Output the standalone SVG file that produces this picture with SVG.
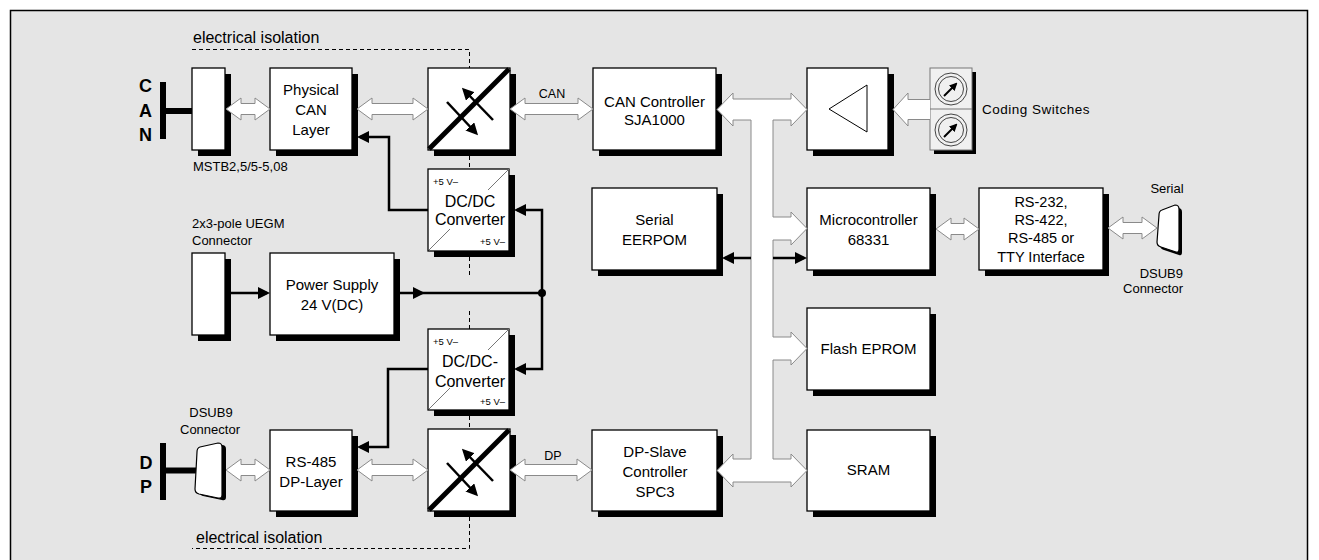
<svg xmlns="http://www.w3.org/2000/svg" width="1319" height="560" viewBox="0 0 1319 560">
<style>
.box{fill:#fff;stroke:#000;stroke-width:1.3}
.sh{fill:#000}
.t{font-family:"Liberation Sans",Arial,sans-serif;font-size:15px;text-anchor:middle;fill:#000}
.s{font-size:13px}
.xs{font-size:9.5px}
.l{text-anchor:start}
.r{text-anchor:end}
.b{font-weight:bold;font-size:18px}
.ha{fill:#fff;stroke:#8a8a8a;stroke-width:1}
.wire{fill:none;stroke:#000;stroke-width:2.5}
.iso{fill:none;stroke:#000;stroke-width:1;stroke-dasharray:4 3}
.thin{stroke:#777;stroke-width:1;fill:none}
</style>
<defs>
<marker id="ah" viewBox="0 0 12 12" refX="9" refY="6" markerWidth="12" markerHeight="12" markerUnits="userSpaceOnUse" orient="auto"><path d="M0,0 L12,6 L0,12 Z" fill="#000"/></marker>
<marker id="ahs" viewBox="0 0 8 8" refX="6" refY="4" markerWidth="8" markerHeight="8" markerUnits="userSpaceOnUse" orient="auto"><path d="M0,0 L8,4 L0,8 Z" fill="#000"/></marker>
<g id="isoInner">
<rect class="sh" x="6" y="6" width="82" height="82"/>
<rect class="box" x="0" y="0" width="82" height="82"/>
<line x1="1" y1="81" x2="81" y2="1" stroke="#000" stroke-width="5"/>
<line x1="19" y1="34" x2="48" y2="65" stroke="#000" stroke-width="2.5" marker-end="url(#ah)"/>
<line x1="65" y1="52" x2="36" y2="22" stroke="#000" stroke-width="2.5" marker-end="url(#ah)"/>
</g>
</defs>
<rect x="0" y="0" width="1319" height="560" fill="#fff"/>
<rect x="10.5" y="10.5" width="1297" height="570" fill="#e5e5e5" stroke="#000" stroke-width="1.5"/>

<g id="isolation">
<path class="iso" d="M192,49.5 H469.5 V68 M469.5,156 V169 M469.5,257 V276 M469.5,311 V329 M469.5,416 V429 M469.5,517 V548.5 H192"/>
<text class="t l" x="193" y="43" style="font-size:16px">electrical isolation</text>
<text class="t l" x="196" y="543" style="font-size:16px">electrical isolation</text>
</g>

<g id="can-bus">
<text class="t b" x="145.5" y="92">C</text>
<text class="t b" x="145.5" y="117">A</text>
<text class="t b" x="145.5" y="141">N</text>
<rect x="160" y="82" width="6" height="57" fill="#000"/>
<line x1="166" y1="111" x2="192" y2="111" stroke="#000" stroke-width="6"/>
</g>
<g id="mstb">
<rect class="sh" x="198" y="74" width="33" height="82"/>
<rect class="box" x="192" y="68" width="33" height="82"/>
<text class="t s l" x="193" y="171">MSTB2,5/5-5,08</text>
</g>
<g id="phys-can">
<rect class="sh" x="276" y="74" width="82" height="82"/>
<rect class="box" x="270" y="68" width="82" height="82"/>
<text class="t" x="311" y="95">Physical</text>
<text class="t" x="311" y="115">CAN</text>
<text class="t" x="311" y="135">Layer</text>
</g>
<g id="iso-top"><use href="#isoInner" x="428" y="68"/></g>
<g id="can-ctrl">
<rect class="sh" x="599" y="74" width="123" height="82"/>
<rect class="box" x="593" y="68" width="123" height="82"/>
<text class="t" x="654.5" y="107">CAN Controller</text>
<text class="t" x="654.5" y="125">SJA1000</text>
</g>
<g id="buffer">
<rect class="sh" x="813" y="74" width="81" height="82"/>
<rect class="box" x="807" y="68" width="81" height="82"/>
<polygon points="829,109 867,85 867,132" fill="none" stroke="#000" stroke-width="1"/>
</g>
<g id="coding">
<rect class="sh" x="934" y="72" width="42" height="82"/>
<rect x="930" y="68" width="42" height="82" fill="#f0f0f0" stroke="#777" stroke-width="1"/>
<line x1="930" y1="109" x2="972" y2="109" stroke="#777" stroke-width="1"/>
<circle cx="951" cy="89" r="16" fill="none" stroke="#444" stroke-width="1"/>
<circle cx="951" cy="89" r="12.5" fill="none" stroke="#444" stroke-width="1"/>
<line x1="944" y1="96" x2="956" y2="84" stroke="#000" stroke-width="2" marker-end="url(#ahs)"/>
<circle cx="951" cy="130" r="16" fill="none" stroke="#444" stroke-width="1"/>
<circle cx="951" cy="130" r="12.5" fill="none" stroke="#444" stroke-width="1"/>
<line x1="944" y1="137" x2="956" y2="125" stroke="#000" stroke-width="2" marker-end="url(#ahs)"/>
<text class="t s l" x="982" y="114" style="font-size:13.5px;letter-spacing:0.5px">Coding Switches</text>
</g>
<g id="dcdc-top">
<rect class="sh" x="434" y="175" width="81" height="82"/>
<rect class="box" x="428" y="169" width="81" height="82"/>
<line class="thin" x1="509" y1="169" x2="488" y2="190"/>
<line class="thin" x1="450" y1="229" x2="429" y2="250"/>
<text class="t xs l" x="433" y="185">+5 V–</text>
<text class="t xs r" x="505" y="245">+5 V–</text>
<text class="t" x="470" y="207" style="font-size:16px">DC/DC</text>
<text class="t" x="470" y="225" style="font-size:16px">Converter</text>
</g>
<g id="uegm">
<rect class="sh" x="198" y="259" width="33" height="82"/>
<rect class="box" x="192" y="253" width="33" height="82"/>
<text class="t s l" x="192" y="228">2x3-pole UEGM</text>
<text class="t s l" x="192" y="245">Connector</text>
</g>
<g id="power">
<rect class="sh" x="276" y="259" width="124" height="82"/>
<rect class="box" x="270" y="253" width="124" height="82"/>
<text class="t" x="332" y="290">Power Supply</text>
<text class="t" x="332" y="310">24 V(DC)</text>
</g>
<g id="dcdc-bottom">
<rect class="sh" x="434" y="335" width="81" height="81"/>
<rect class="box" x="428" y="329" width="81" height="81"/>
<line class="thin" x1="509" y1="329" x2="488" y2="350"/>
<line class="thin" x1="450" y1="388" x2="429" y2="409"/>
<text class="t xs l" x="433" y="345">+5 V–</text>
<text class="t xs r" x="505" y="405">+5 V–</text>
<text class="t" x="470" y="367" style="font-size:16px">DC/DC-</text>
<text class="t" x="470" y="387" style="font-size:16px">Converter</text>
</g>
<g id="dp-bus">
<text class="t b" x="146" y="469">D</text>
<text class="t b" x="146" y="493">P</text>
<rect x="160" y="443" width="6" height="57" fill="#000"/>
<line x1="166" y1="470.5" x2="197" y2="470.5" stroke="#000" stroke-width="6"/>
</g>
<g id="dp-dsub">
<path d="M204,449 Q201,450 201,454 L199,491 Q199,495 203,496 L222,500 Q226,501 226,497 L226,449 Q226,445 222,445 Z" fill="#000"/>
<path d="M200,447 Q197,448 197,452 L195,489 Q195,493 199,494 L218,498 Q222,499 222,495 L222,447 Q222,443 218,443 Z" fill="#fff" stroke="#000" stroke-width="1.2"/>
<text class="t s" x="211" y="417">DSUB9</text>
<text class="t s" x="210" y="434">Connector</text>
</g>
<g id="rs485">
<rect class="sh" x="276" y="436" width="82" height="81"/>
<rect class="box" x="270" y="430" width="82" height="81"/>
<text class="t" x="311" y="467">RS-485</text>
<text class="t" x="311" y="487">DP-Layer</text>
</g>
<g id="iso-bottom"><use href="#isoInner" x="428" y="429"/></g>
<g id="dp-slave">
<rect class="sh" x="598" y="436" width="125" height="81"/>
<rect class="box" x="592" y="430" width="125" height="81"/>
<text class="t" x="655" y="457">DP-Slave</text>
<text class="t" x="655" y="477">Controller</text>
<text class="t" x="655" y="497">SPC3</text>
</g>
<g id="eeprom">
<rect class="sh" x="598" y="194" width="125" height="82"/>
<rect class="box" x="592" y="188" width="125" height="82"/>
<text class="t" x="654.5" y="225">Serial</text>
<text class="t" x="654.5" y="245">EERPOM</text>
</g>
<g id="micro">
<rect class="sh" x="813" y="194" width="123" height="82"/>
<rect class="box" x="807" y="188" width="123" height="82"/>
<text class="t" x="868.5" y="225">Microcontroller</text>
<text class="t" x="868.5" y="245">68331</text>
</g>
<g id="flash">
<rect class="sh" x="813" y="314" width="123" height="82"/>
<rect class="box" x="807" y="308" width="123" height="82"/>
<text class="t" x="868.5" y="354">Flash EPROM</text>
</g>
<g id="sram">
<rect class="sh" x="813" y="436" width="123" height="81"/>
<rect class="box" x="807" y="430" width="123" height="81"/>
<text class="t" x="868.5" y="475">SRAM</text>
</g>
<g id="rs232">
<rect class="sh" x="985" y="194" width="124" height="82"/>
<rect class="box" x="979" y="188" width="124" height="82"/>
<text class="t" x="1041" y="207" style="font-size:14.5px">RS-232,</text>
<text class="t" x="1041" y="225" style="font-size:14.5px">RS-422,</text>
<text class="t" x="1041" y="243" style="font-size:14.5px">RS-485 or</text>
<text class="t" x="1041" y="262" style="font-size:14.5px">TTY Interface</text>
</g>
<g id="serial-dsub">
<path d="M1165,213 Q1162,214 1162,218 L1160,245 Q1160,249 1164,250 L1179,255 Q1182,256 1182,252 L1182,212 Q1182,208 1178,208 Z" fill="#000"/>
<path d="M1162,210 Q1159,211 1159,215 L1157,242 Q1157,246 1161,247 L1176,252 Q1179,253 1179,249 L1179,209 Q1179,205 1175,205 Z" fill="#fff" stroke="#000" stroke-width="1.2"/>
<text class="t s" x="1167" y="193">Serial</text>
<text class="t s r" x="1183" y="278">DSUB9</text>
<text class="t s r" x="1183" y="293">Connector</text>
</g>

<g id="connectors">
<path class="ha" d="M226,109 L241,98 L241,103.5 L255,103.5 L255,98 L270,109 L255,120 L255,114.5 L241,114.5 L241,120 Z"/>
<path class="ha" d="M357,109 L372,98 L372,103.5 L413,103.5 L413,98 L428,109 L413,120 L413,114.5 L372,114.5 L372,120 Z"/>
<path class="ha" d="M510,109 L525,98 L525,103.5 L578,103.5 L578,98 L593,109 L578,120 L578,114.5 L525,114.5 L525,120 Z"/>
<text class="t" x="552" y="98" style="font-size:12.5px">CAN</text>
<path class="ha" d="M226,470 L241,459 L241,464.5 L255,464.5 L255,459 L270,470 L255,481 L255,475.5 L241,475.5 L241,481 Z"/>
<path class="ha" d="M357,470 L372,459 L372,464.5 L413,464.5 L413,459 L428,470 L413,481 L413,475.5 L372,475.5 L372,481 Z"/>
<path class="ha" d="M510,470 L525,459 L525,464.5 L577,464.5 L577,459 L592,470 L577,481 L577,475.5 L525,475.5 L525,481 Z"/>
<text class="t" x="553" y="460" style="font-size:12.5px">DP</text>
<path class="ha" d="M936,229 L951,218 L951,223.5 L964,223.5 L964,218 L979,229 L964,240 L964,234.5 L951,234.5 L951,240 Z"/>
<path class="ha" d="M1108,228 L1123,217 L1123,222.5 L1142,222.5 L1142,217 L1157,228 L1142,239 L1142,233.5 L1123,233.5 L1123,239 Z"/>
<path class="ha" d="M930,99.5 L908,99.5 L908,93 L893,109.5 L908,126 L908,119.5 L930,119.5"/>
<path class="ha" d="M717,109.5 L733,93 L733,99 L791,99 L791,93 L807,109.5 L791,126 L791,120 L773,120 L773,217 L791,217 L791,212 L807,228.5 L791,245 L791,240 L773,240 L773,337 L791,337 L791,332 L807,348.5 L791,365 L791,360 L773,360 L773,459 L791,459 L791,454 L807,470.5 L791,487 L791,482 L733,482 L733,487 L717,470.5 L733,454 L733,459 L751,459 L751,120 L733,120 L733,126 Z"/>
<line class="wire" x1="751" y1="258" x2="725" y2="258" marker-end="url(#ah)"/>
<line class="wire" x1="773" y1="258" x2="804" y2="258" marker-end="url(#ah)"/>
<polyline class="wire" points="428,210 389,210 389,137 360,137" marker-end="url(#ah)"/>
<polyline class="wire" points="542,293 542,210 517,210" marker-end="url(#ah)"/>
<polyline class="wire" points="542,293 542,369 517,369" marker-end="url(#ah)"/>
<polyline class="wire" points="428,369 388,369 388,447 360,447" marker-end="url(#ah)"/>
<line class="wire" x1="231" y1="293" x2="267" y2="293" marker-end="url(#ah)"/>
<line class="wire" x1="400" y1="293" x2="542" y2="293"/>
<polygon points="413,287 425,293 413,299" fill="#000"/>
<circle cx="542" cy="293" r="4" fill="#000"/>
</g>
</svg>
